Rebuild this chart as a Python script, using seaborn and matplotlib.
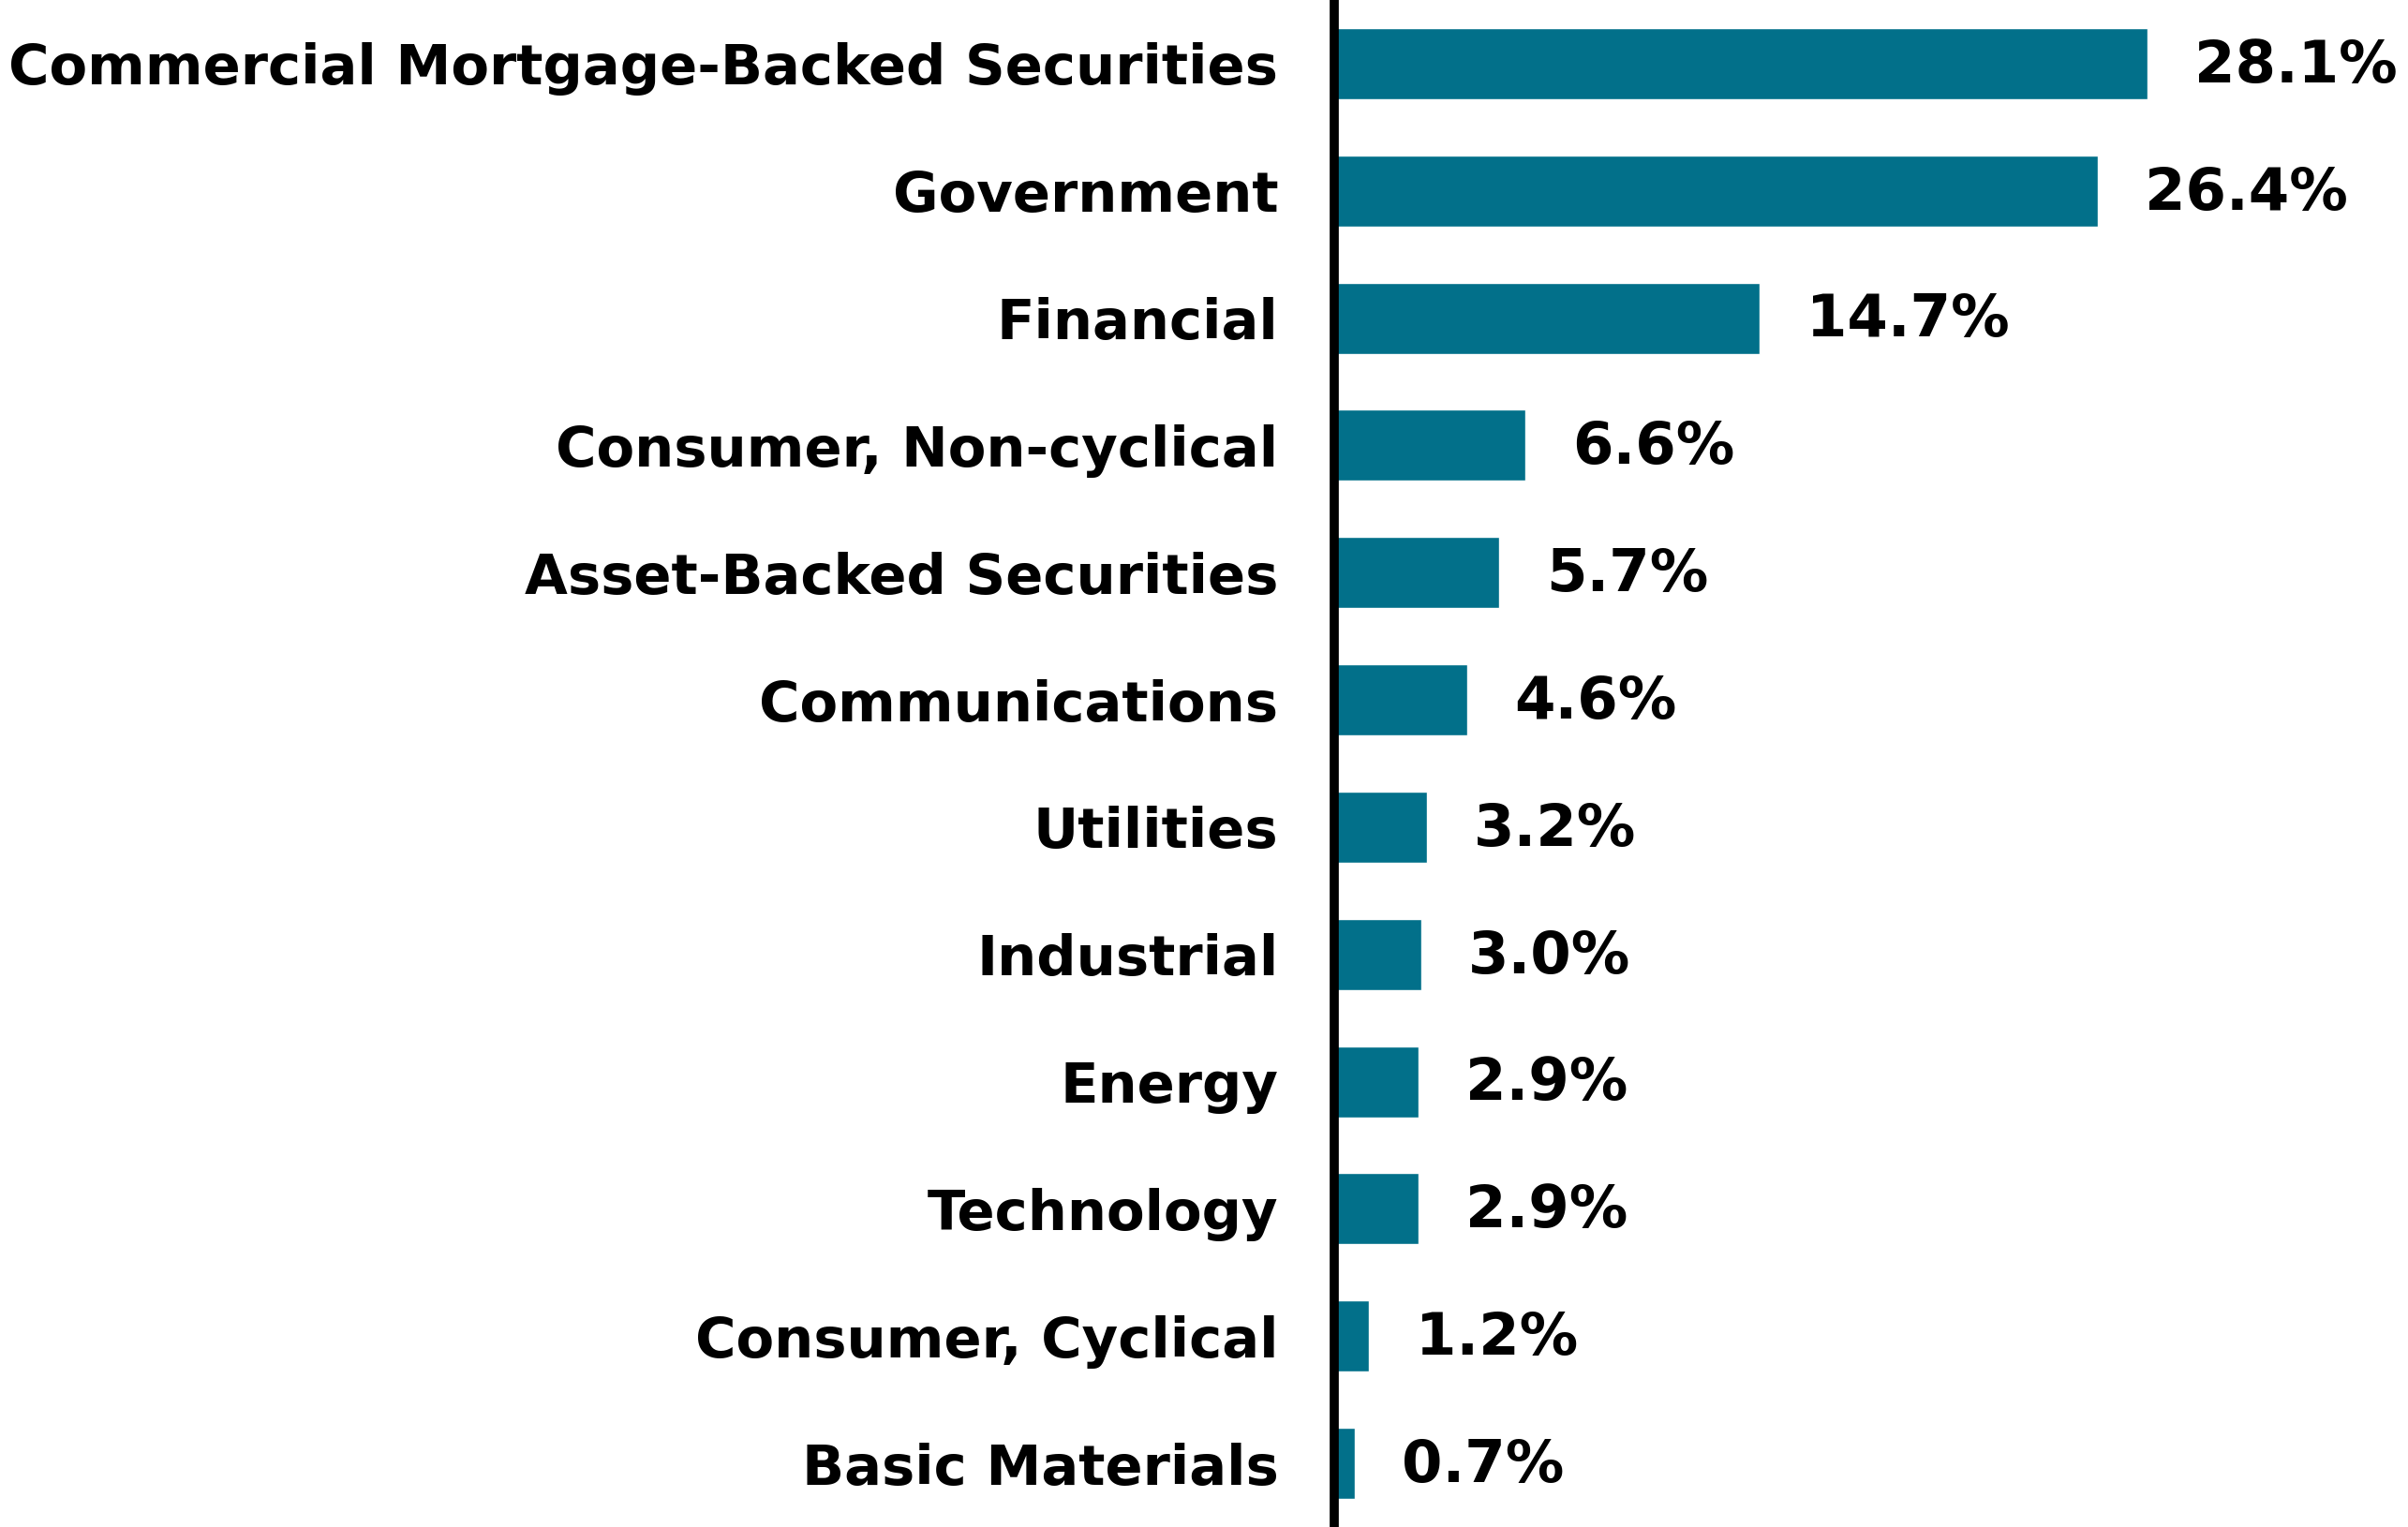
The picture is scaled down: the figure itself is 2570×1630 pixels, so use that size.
import matplotlib
matplotlib.use("Agg")
import matplotlib.pyplot as plt
import seaborn as sns
import pandas as pd

categories = ["Commercial Mortgage-Backed Securities", "Government", "Financial",
              "Consumer, Non-cyclical", "Asset-Backed Securities", "Communications",
              "Utilities", "Industrial", "Energy", "Technology", "Consumer, Cyclical",
              "Basic Materials"]
values = [28.1, 26.4, 14.7, 6.6, 5.7, 4.6, 3.2, 3.0, 2.9, 2.9, 1.2, 0.7]
value_labels = ["28.1%", "26.4%", "14.7%", "6.6%", "5.7%", "4.6%", "3.2%", "3.0%",
                "2.9%", "2.9%", "1.2%", "0.7%"]

df = pd.DataFrame({"category": categories, "value": values})

sns.set_theme(style="white")
plt.rcParams["font.family"] = ["DejaVu Sans"]

fig = plt.figure(figsize=(25.7, 16.3), dpi=100)
ax = fig.add_axes([1424 / 2570, 0.0, 1 - 1424 / 2570, 1.0])

sns.barplot(data=df, x="value", y="category", orient="h", color="#02708A",
            saturation=1, width=0.56, ax=ax)

ax.set_xlim(0, 37.1)
ax.set_ylim(11.5, -0.5)
ax.set_xlabel("")
ax.set_ylabel("")
ax.set_xticks([])
for s in ["top", "right", "bottom"]:
    ax.spines[s].set_visible(False)
ax.spines["left"].set_color("black")
ax.spines["left"].set_linewidth(7)
ax.tick_params(axis="y", length=0, pad=43)
for lab in ax.get_yticklabels():
    lab.set_fontsize(42.7)
    lab.set_fontweight("bold")
    lab.set_color("black")

for i, (v, t) in enumerate(zip(values, value_labels)):
    ax.annotate(t, xy=(v, i), xytext=(36, -2), textcoords="offset points",
                ha="left", va="center", fontsize=45, fontweight="bold", color="black")

fig.savefig("out.png", dpi=100)
